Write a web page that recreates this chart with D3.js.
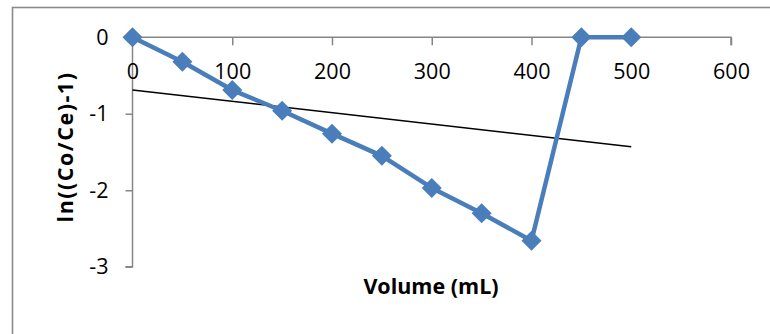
<!DOCTYPE html>
<html><head><meta charset="utf-8">
<script src="https://cdn.jsdelivr.net/npm/d3@7"></script>
<style>html,body{margin:0;padding:0;background:#fff;}svg{display:block;}</style>
</head><body>
<svg id="chart" width="770" height="334"></svg>
<script>
const volumes = [0, 50, 100, 150, 200, 250, 300, 350, 400, 450, 500];
const lnValues = [0, -0.32, -0.69, -0.96, -1.26, -1.55, -1.97, -2.30, -2.66, 0, 0];
const trendX = [0, 500];
const trendY = [-0.69, -1.43];
const xTicks = [0, 100, 200, 300, 400, 500, 600];
const yTicks = [0, -1, -2, -3];
const xTitle = "Volume (mL)";
const yTitle = "ln((Co/Ce)-1)";

const svg = d3.select("#chart");
const font = "'Open Sans', 'Liberation Sans', sans-serif";
const x = d3.scaleLinear().domain([0, 600]).range([132.5, 731]);
const y = d3.scaleLinear().domain([0, -3]).range([37.3, 266.7]);

// outer border
svg.append("rect").attr("x", 12.5).attr("y", 7.5).attr("width", 770).attr("height", 340)
  .attr("fill", "none").attr("stroke", "#8a8a8a").attr("stroke-width", 1.6);

const axisColor = "#868686";
const fmt = d => String(d);
// y axis
const ya = svg.append("g").attr("transform", `translate(${x(0)},0)`)
  .call(d3.axisLeft(y).tickValues(yTicks).tickSize(7).tickPadding(17).tickFormat(fmt));
// x axis at y=0
const xa = svg.append("g").attr("transform", `translate(0,${y(0)})`)
  .call(d3.axisBottom(x).tickValues(xTicks).tickSize(8).tickPadding(18).tickFormat(fmt));
[ya, xa].forEach(g => {
  g.select(".domain").attr("stroke", axisColor).attr("stroke-width", 1.5);
  g.selectAll(".tick line").attr("stroke", axisColor).attr("stroke-width", 1.5);
  g.selectAll(".tick text").attr("fill", "#000").style("font-family", font).style("font-size", "21.5px");
});
ya.select(".domain").attr("d", `M-7,${y(-3)}H0V${y(0)}`);
xa.select(".domain").attr("d", `M${x(0)},0H${x(600)}V8`);

// trendline
svg.append("line")
  .attr("x1", x(trendX[0])).attr("y1", y(trendY[0]))
  .attr("x2", x(trendX[1])).attr("y2", y(trendY[1]))
  .attr("stroke", "#000").attr("stroke-width", 1.5);

const data = volumes.map((v, i) => ({v, val: lnValues[i]}));
const blue = "#4a7ebb";
svg.append("path").datum(data)
  .attr("fill", "none").attr("stroke", blue).attr("stroke-width", 4.5).attr("stroke-linejoin", "round")
  .attr("d", d3.line().x(d => x(d.v)).y(d => y(d.val)));

const sym = d3.symbol().type(d3.symbolSquare).size(200);
svg.selectAll(".mk").data(data).enter().append("path")
  .attr("class", "mk")
  .attr("d", sym)
  .attr("transform", d => `translate(${x(d.v)},${y(d.val)}) rotate(45)`)
  .attr("fill", blue);

// titles
svg.append("text").attr("x", 431).attr("y", 294).attr("text-anchor", "middle")
  .style("font-family", font).style("font-size", "21.5px").style("font-weight", "bold").text(xTitle);
svg.append("text").attr("transform", "translate(73,147) rotate(-90)").attr("text-anchor", "middle")
  .style("font-family", font).style("font-size", "21.5px").style("font-weight", "bold")
  .style("letter-spacing", "1.5px").text(yTitle);
</script>
</body></html>
